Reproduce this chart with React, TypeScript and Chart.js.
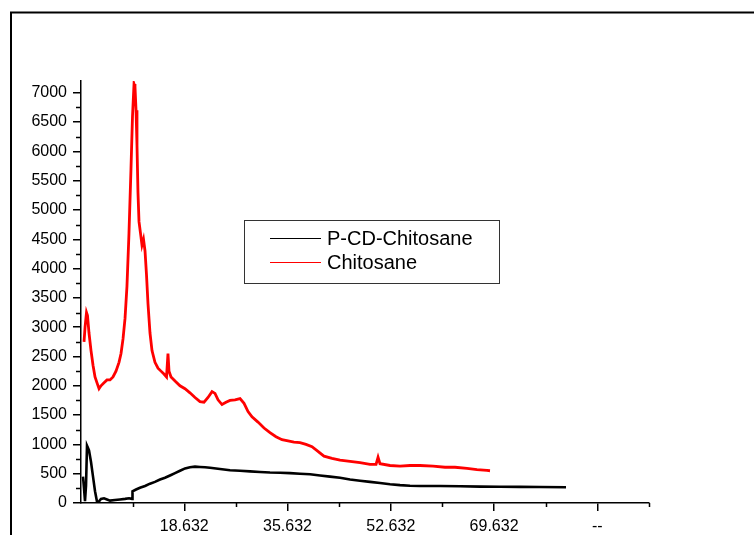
import React, { useEffect, useRef } from "react";
import { Chart, registerables } from "chart.js";

Chart.register(...registerables);

const SERIES_NAMES = ["P-CD-Chitosane", "Chitosane"];

const CHITOSANE_X = [
  2.13, 2.3, 2.54, 2.7, 2.95, 3.28, 3.61, 3.94, 4.27, 4.6, 4.92, 5.42, 5.91, 6.41, 6.9, 7.39, 7.89,
  8.22, 8.55, 8.88, 9.2, 9.53, 9.86, 10.11, 10.36, 10.52, 10.69, 10.85, 11.01, 11.18, 11.43, 11.67,
  11.92, 12.17, 12.41, 12.66, 12.99, 13.32, 13.81, 14.31, 14.8, 15.29, 15.71, 15.95, 16.12, 16.45,
  17.11, 17.93, 18.75, 19.57, 20.4, 21.22, 21.88, 22.54, 23.2, 23.69, 24.19, 24.84, 25.5, 26.16,
  26.98, 27.81, 28.47, 29.13, 29.78, 30.77, 31.76, 32.74, 33.73, 34.72, 35.71, 36.69, 37.68, 38.67,
  39.66, 40.64, 41.63, 42.95, 44.27, 45.92, 47.56, 49.21, 50.2, 50.53, 50.85, 52.5, 54.15, 55.79,
  57.44, 59.59, 61.55, 63.2, 65.17, 66.82, 68.46, 68.96,
];
const CHITOSANE_Y = [
  2750, 3000, 3250, 3200, 2900, 2600, 2350, 2150, 2050, 1950, 2000, 2050, 2100, 2100, 2150, 2250, 2400,
  2550, 2800, 3150, 3700, 4600, 5700, 6600, 7150, 7100, 6700, 6100, 5300, 4800, 4600, 4400,
  4500, 4300, 3900, 3400, 2900, 2600, 2400, 2300, 2250, 2200, 2150, 2550, 2250, 2150,
  2080, 2000, 1950, 1880, 1800, 1730, 1720, 1800, 1900, 1870, 1760, 1680, 1720, 1750,
  1760, 1780, 1700, 1560, 1470, 1380, 1280, 1200, 1130, 1080, 1060, 1040, 1030, 1000,
  960, 880, 800, 760, 730, 710, 690, 660, 660, 780, 670, 640, 630, 640,
  640, 630, 610, 610, 590, 570, 555, 550,
];

const PCD_X = [
  1.96, 2.13, 2.29, 2.46, 2.62, 2.79, 2.95, 3.28, 3.61, 3.94, 4.27, 4.6, 4.92, 5.42, 5.91, 6.41, 7.23,
  8.05, 8.88, 9.53, 10.03, 10.11, 10.69, 11.34, 12.17, 12.99, 13.81, 14.64, 15.46, 16.28, 17.11,
  17.93, 18.76, 19.57, 20.4, 21.22, 22.05, 22.87, 24.51, 26.16, 27.8, 29.45, 31.1, 32.74, 34.39,
  36.04, 37.68, 39.33, 40.98, 42.62, 44.27, 45.92, 47.56, 49.21, 50.86, 52.5, 54.15, 55.79, 57.44,
  60.73, 64.03, 67.32, 70.61, 73.9, 77.19, 81.47,
];
const PCD_Y = [
  450, 250, 30, 300, 980, 940, 900, 700, 450, 200, 20, 30, 70, 80, 60, 40, 50,
  60, 70, 80, 70, 200, 230, 260, 290, 330, 360, 400, 430, 470, 510,
  550, 590, 610, 620, 615, 610, 600, 580, 560, 550, 540, 530, 520, 515,
  510, 500, 490, 470, 450, 430, 400, 380, 360, 340, 320, 305, 295, 290,
  290, 285, 280, 278, 275, 272, 268,
];

const X_MIN = 1.632;
const X_MAX = 95.132;
const X_TICKS = [18.632, 35.632, 52.632, 69.632, 86.632];
const X_TICK_LABELS = ["18.632", "35.632", "52.632", "69.632", "--"];
const X_MINOR_TICKS = [10.132, 27.132, 44.132, 61.132, 78.132, 95.132];
const Y_MIN = 0;
const Y_MAX = 7200;
const Y_TICKS = [0, 500, 1000, 1500, 2000, 2500, 3000, 3500, 4000, 4500, 5000, 5500, 6000, 6500, 7000];
const Y_MINOR_TICKS = [250, 750, 1250, 1750, 2250, 2750, 3250, 3750, 4250, 4750, 5250, 5750, 6250, 6750];

const FONT = "'Liberation Sans', Arial, sans-serif";
const COLORS = ["#000000", "#ff0000"];

const extrasPlugin = {
  id: "extras",
  beforeDraw(chart: any) {
    const ctx = chart.ctx;
    ctx.save();
    ctx.fillStyle = "#ffffff";
    ctx.fillRect(0, 0, chart.width, chart.height);
    ctx.strokeStyle = "#000000";
    ctx.lineWidth = 2;
    ctx.strokeRect(11, 12.5, 900, 700);
    ctx.restore();
  },
  afterDraw(chart: any) {
    const ctx = chart.ctx;
    const xs = chart.scales.x;
    const ys = chart.scales.y;
    const area = chart.chartArea;
    ctx.save();
    ctx.strokeStyle = "#000000";
    ctx.lineWidth = 1.5;
    ctx.beginPath();
    for (const v of Y_MINOR_TICKS) {
      const py = Math.round(ys.getPixelForValue(v)) + 0.5;
      ctx.moveTo(area.left - 5, py);
      ctx.lineTo(area.left, py);
    }
    for (const v of X_MINOR_TICKS) {
      const px = Math.round(xs.getPixelForValue(v)) + 0.5;
      ctx.moveTo(px, area.bottom);
      ctx.lineTo(px, area.bottom + 4);
    }
    ctx.stroke();

    // legend
    const bx = 244.5, by = 220.5, bw = 255, bh = 63;
    ctx.lineWidth = 1;
    ctx.strokeStyle = "#333333";
    ctx.strokeRect(bx, by, bw, bh);
    const rows = [238.5, 262.5];
    ctx.font = "20px " + FONT;
    ctx.textBaseline = "middle";
    ctx.textAlign = "left";
    for (let i = 0; i < SERIES_NAMES.length; i++) {
      ctx.strokeStyle = COLORS[i];
      ctx.lineWidth = 1;
      ctx.beginPath();
      ctx.moveTo(270, rows[i]);
      ctx.lineTo(321, rows[i]);
      ctx.stroke();
      ctx.fillStyle = "#000000";
      ctx.fillText(SERIES_NAMES[i], 327, rows[i] + 1);
    }
    ctx.restore();
  },
};

export default function App() {
  const ref = useRef<HTMLCanvasElement | null>(null);
  useEffect(() => {
    if (!ref.current) return;
    const toPts = (xs: number[], ys: number[]) => xs.map((x, i) => ({ x, y: ys[i] }));
    const chart = new Chart(ref.current, {
      type: "line",
      data: {
        datasets: [
          {
            label: SERIES_NAMES[0],
            data: toPts(PCD_X, PCD_Y),
            borderColor: COLORS[0],
            borderWidth: 2.6,
            pointRadius: 0,
            tension: 0,
          },
          {
            label: SERIES_NAMES[1],
            data: toPts(CHITOSANE_X, CHITOSANE_Y),
            borderColor: COLORS[1],
            borderWidth: 2.8,
            pointRadius: 0,
            tension: 0,
          },
        ],
      },
      options: {
        responsive: false,
        animation: false,
        layout: { padding: { left: 0, right: 105, top: 81, bottom: 0 } },
        plugins: { legend: { display: false }, tooltip: { enabled: false } },
        scales: {
          x: {
            type: "linear",
            min: X_MIN,
            max: X_MAX,
            afterBuildTicks: (s: any) => {
              s.ticks = X_TICKS.map((v) => ({ value: v }));
            },
            afterFit: (s: any) => {
              s.height = 32;
            },
            ticks: {
              autoSkip: false,
              maxRotation: 0,
              padding: 6,
              color: "#000000",
              font: { family: FONT, size: 16 },
              callback: (_v: any, i: number) => X_TICK_LABELS[i],
            },
            grid: {
              display: true,
              drawOnChartArea: false,
              drawTicks: true,
              tickLength: 8,
              color: "#000000",
              lineWidth: 1.5,
            },
            border: { display: true, color: "#000000", width: 1.5 },
          },
          y: {
            type: "linear",
            min: Y_MIN,
            max: Y_MAX,
            afterBuildTicks: (s: any) => {
              s.ticks = Y_TICKS.map((v) => ({ value: v }));
            },
            afterFit: (s: any) => {
              s.width = 81;
            },
            ticks: {
              autoSkip: false,
              padding: 6,
              color: "#000000",
              font: { family: FONT, size: 16 },
              callback: (v: any) => String(v),
            },
            grid: {
              display: true,
              drawOnChartArea: false,
              drawTicks: true,
              tickLength: 8,
              color: "#000000",
              lineWidth: 1.5,
            },
            border: { display: true, color: "#000000", width: 1.5 },
          },
        },
      },
      plugins: [extrasPlugin],
    });
    return () => chart.destroy();
  }, []);
  return (
    <div style={{ position: "absolute", left: 0, top: 0, width: 754, height: 535, background: "#fff" }}>
      <canvas ref={ref} width={754} height={535} style={{ width: 754, height: 535, display: "block" }} />
    </div>
  );
}
